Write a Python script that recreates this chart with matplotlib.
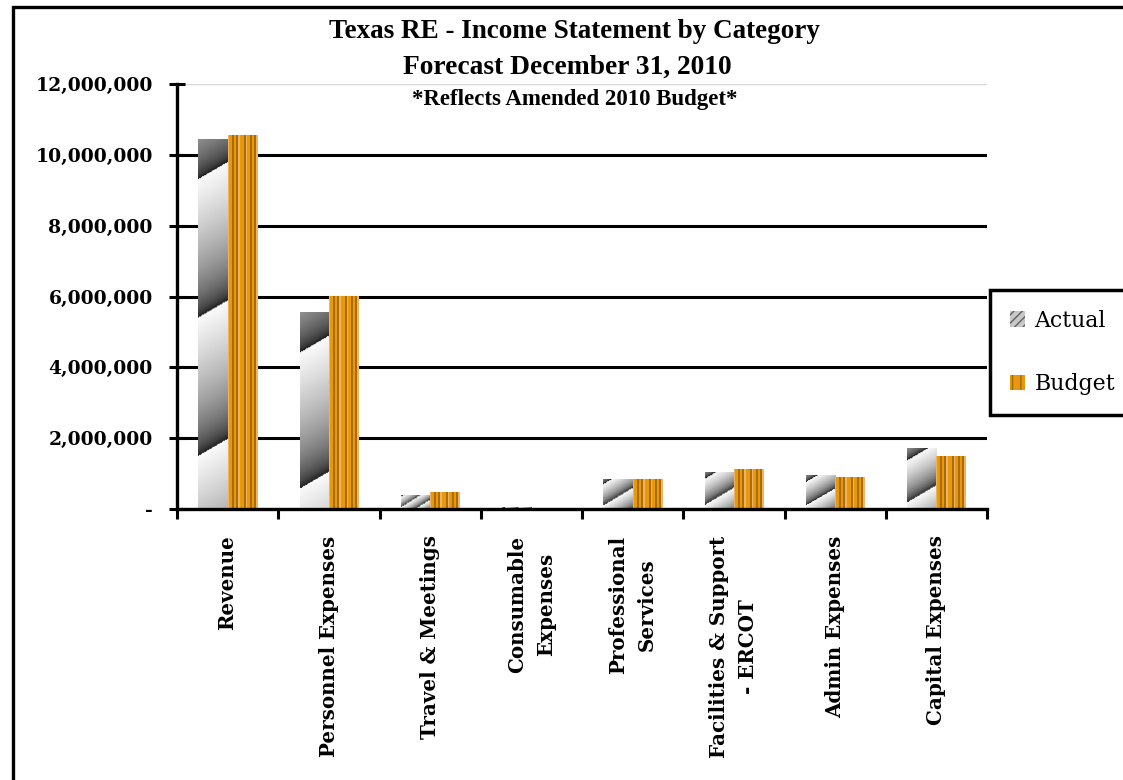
import numpy as np
import matplotlib
matplotlib.use("Agg")
import matplotlib.pyplot as plt
from matplotlib.patches import Patch, Rectangle
from matplotlib.colors import to_rgb

categories = ["Revenue", "Personnel Expenses", "Travel & Meetings",
              "Consumable\nExpenses", "Professional\nServices",
              "Facilities & Support\n- ERCOT", "Admin Expenses", "Capital Expenses"]
actual = [10450000, 5560000, 400000, 50000, 850000, 1050000, 960000, 1720000]
budget = [10560000, 6020000, 490000, 15000, 850000, 1130000, 900000, 1500000]
yticks = [0, 2000000, 4000000, 6000000, 8000000, 10000000, 12000000]

W, H = 1123, 780
fig = plt.figure(figsize=(W / 100, H / 100), dpi=100)
ax = fig.add_axes([177 / W, 1 - 509 / H, (987 - 177) / W, (509 - 84) / H])

x = np.arange(len(categories))
bw = 0.29
ax.set_xlim(-0.5, len(categories) - 0.5)
ax.set_ylim(0, 12000000)

bars_a = ax.bar(x - bw / 2, actual, bw, color="#c8c8c8", linewidth=0, zorder=3)
bars_b = ax.bar(x + bw / 2, budget, bw, color="#e8980a", linewidth=0, zorder=3)

# textures: diagonal gray sawtooth for Actual, vertical stripes for Budget
O, B, L = "#e8980a", "#a86c08", "#eeb464"
stripe = [to_rgb(c) for c in [L, O, O, O, B, B, O, O, B, B, L, L, O, O, O, B, B]]
for p in bars_a:
    bb = p.get_window_extent()
    nx, ny = max(int(bb.width), 2), max(int(bb.height), 2)
    period = max(min(ny, 200) / 1.45, 8)
    X, Y = np.meshgrid(np.arange(nx), np.arange(ny))
    depth = ny - Y  # distance below the bar top
    frac = ((0.3 * period - depth - 0.6 * X) / period) % 1.0
    v = 0.06 + 0.92 * frac ** 0.5
    img = ax.imshow(v, cmap="gray", vmin=0, vmax=1, origin="lower", aspect="auto",
                    interpolation="bilinear", zorder=4,
                    extent=(p.get_x(), p.get_x() + p.get_width(), 0, p.get_height()))
    img.set_clip_path(p)
for p in bars_b:
    bb = p.get_window_extent()
    nx = max(int(round(bb.width)), 2)
    row = np.array([stripe[i % len(stripe)] for i in range(nx)])[None, :, :]
    img = ax.imshow(row, origin="lower", aspect="auto", interpolation="nearest", zorder=4,
                    extent=(p.get_x(), p.get_x() + p.get_width(), 0, p.get_height()))
    img.set_clip_path(p)
ax.set_xlim(-0.5, len(categories) - 0.5)
ax.set_ylim(0, 12000000)

# axes styling
for s in ["top", "right"]:
    ax.spines[s].set_visible(False)
for s in ["left", "bottom"]:
    ax.spines[s].set_linewidth(2.4)
    ax.spines[s].set_zorder(6)

ax.set_yticks(yticks)
ax.set_yticklabels(["-" if v == 0 else f"{v:,.0f}" for v in yticks],
                   fontfamily="DejaVu Serif", fontweight="bold", fontsize=13.5)
ax.tick_params(axis="y", direction="inout", length=11, width=2.2, pad=12)
ax.yaxis.grid(True, color="black", linewidth=2.2, zorder=1)
ax.set_axisbelow(True)
for gl, v in zip(ax.get_ygridlines(), yticks):
    if v == 12000000:
        gl.set_color("#d8d8d8")
        gl.set_linewidth(1)

ax.set_xticks(x)
ax.set_xticklabels(categories, rotation=90, ha="center", va="top", multialignment="center",
                   linespacing=1.55, fontfamily="DejaVu Serif", fontweight="bold", fontsize=14.3)
ax.tick_params(axis="x", which="major", length=0, pad=19)
ax.set_xticks(np.arange(-0.5, len(categories), 1), minor=True)
ax.tick_params(axis="x", which="minor", direction="out", length=7, width=2.2)

# titles
fig.text(574 / W, 1 - 32 / H, "Texas RE - Income Statement by Category", ha="center", va="center",
         fontfamily="Liberation Serif", fontweight="bold", fontsize=19.5)
fig.text(567 / W, 1 - 67 / H, "Forecast December 31, 2010", ha="center", va="center",
         fontfamily="Liberation Serif", fontweight="bold", fontsize=19.8)
fig.text(575 / W, 1 - 100 / H, "*Reflects Amended 2010 Budget*", ha="center", va="center",
         fontfamily="Liberation Serif", fontweight="bold", fontsize=16.5)

# legend
handles = [Patch(facecolor="#c8c8c8", edgecolor="#606060", hatch="////", linewidth=0, label="Actual"),
           Patch(facecolor="#e8980a", edgecolor="#a06800", hatch="||", linewidth=0, label="Budget")]
leg = fig.legend(handles=handles, loc="upper left", mode="expand",
                 bbox_to_anchor=(990 / W, 1 - 412 / H, 0.3, (412 - 290) / H),
                 prop={"family": "DejaVu Serif", "size": 15.8}, fancybox=False,
                 edgecolor="black", framealpha=1, borderpad=0.9, labelspacing=1.9,
                 handlelength=0.68, handleheight=0.7, handletextpad=0.45, borderaxespad=0)
leg.get_frame().set_linewidth(2.5)

# outer chart border
fig.patches.append(Rectangle((13 / W, -0.2), 1.5, 1.2 - 7 / H, transform=fig.transFigure,
                             fill=False, edgecolor="black", linewidth=2.4, zorder=0))

fig.savefig("out.png", dpi=100)
